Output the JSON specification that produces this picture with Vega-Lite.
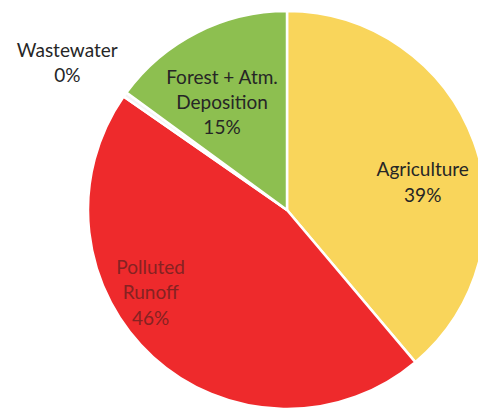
{
  "$schema": "https://vega.github.io/schema/vega-lite/v6.json",
  "width": 380,
  "height": 380,
  "autosize": "none",
  "padding": {"left": 97, "top": 20, "right": 1, "bottom": 8},
  "background": "white",
  "config": {"view": {"stroke": null}},
  "data": {
    "values": [
      {"source": "Agriculture", "value": 39, "rank": 1, "lines": ["Agriculture", "39%"]},
      {"source": "Polluted Runoff", "value": 46, "rank": 2, "lines": ["Polluted", "Runoff", "46%"]},
      {"source": "Wastewater", "value": 0.4, "rank": 3, "lines": ["Wastewater", "0%"]},
      {"source": "Forest + Atm. Deposition", "value": 15, "rank": 4, "lines": ["Forest + Atm.", "Deposition", "15%"]}
    ]
  },
  "encoding": {
    "theta": {"field": "value", "type": "quantitative", "stack": true},
    "order": {"field": "rank", "type": "ordinal"}
  },
  "layer": [
    {
      "mark": {"type": "arc", "radius": 199, "stroke": "white", "strokeWidth": 2.5},
      "encoding": {
        "color": {
          "field": "source",
          "type": "nominal",
          "scale": {
            "domain": ["Agriculture", "Polluted Runoff", "Wastewater", "Forest + Atm. Deposition"],
            "range": ["#F9D55B", "#EE2A2C", "#F4F4F4", "#8DBF50"]
          },
          "legend": null
        }
      }
    },
    {
      "mark": {"type": "text", "radius": 136, "dx": 8, "dy": 7, "font": "Lato", "fontSize": 19, "lineHeight": 26, "color": "#262626", "align": "center", "baseline": "middle"},
      "encoding": {
        "text": {"condition": {"test": "datum.source === 'Agriculture'", "field": "lines"}, "value": ""}
      }
    },
    {
      "mark": {"type": "text", "radius": 158, "dx": -30, "dy": -59, "font": "Lato", "fontSize": 19, "lineHeight": 25.5, "color": "#852222", "align": "center", "baseline": "middle"},
      "encoding": {
        "text": {"condition": {"test": "datum.source === 'Polluted Runoff'", "field": "lines"}, "value": ""}
      }
    },
    {
      "mark": {"type": "text", "radius": 265, "dx": -4, "dy": -5, "font": "Lato", "fontSize": 19, "lineHeight": 25, "color": "#262626", "align": "center", "baseline": "middle"},
      "encoding": {
        "text": {"condition": {"test": "datum.source === 'Wastewater'", "field": "lines"}, "value": ""}
      }
    },
    {
      "mark": {"type": "text", "radius": 126, "dx": -8, "dy": -19.5, "font": "Lato", "fontSize": 19, "lineHeight": 25, "color": "#262626", "align": "center", "baseline": "middle"},
      "encoding": {
        "text": {"condition": {"test": "datum.source === 'Forest + Atm. Deposition'", "field": "lines"}, "value": ""}
      }
    }
  ]
}
